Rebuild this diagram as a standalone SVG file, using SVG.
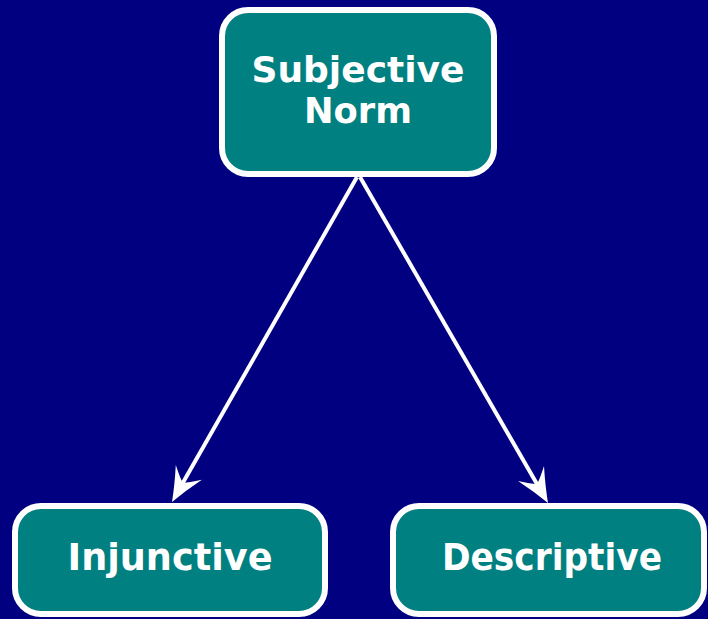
<svg xmlns="http://www.w3.org/2000/svg" width="708" height="619" viewBox="0 0 708 619">
  <defs>
    <style>
      .box { fill: #008080; stroke: #ffffff; stroke-width: 6; }
      .label { fill: #ffffff; font-family: "Comic Sans MS", "DejaVu Sans", sans-serif; font-weight: bold; font-size: 38px; text-anchor: middle; }
      .title { font-size: 35px; }
      .edge { stroke: #ffffff; stroke-width: 4; fill: none; marker-end: url(#head); }
    </style>
    <marker id="head" markerUnits="userSpaceOnUse" orient="auto" refX="0" refY="0" markerWidth="50" markerHeight="40" viewBox="-20 -20 50 40" overflow="visible">
      <path d="M20,0 Q4,-6 -14,-15 Q-4,-4 -2,0 Q-4,4 -14,15 Q4,6 20,0 Z" fill="#ffffff"/>
    </marker>
  </defs>
  <rect width="708" height="619" fill="#000080"/>

  <g id="connectors">
    <line class="edge" x1="357" y1="177" x2="181.9" y2="484.6"/>
    <line class="edge" x1="360" y1="177" x2="538" y2="485.7"/>
  </g>

  <g id="subjective-norm">
    <rect class="box" x="222" y="10" width="272" height="164" rx="26"/>
    <text class="label title" x="358" y="82" textLength="213" lengthAdjust="spacingAndGlyphs">Subjective</text>
    <text class="label title" x="358" y="123" textLength="108" lengthAdjust="spacingAndGlyphs">Norm</text>
  </g>

  <g id="injunctive">
    <rect class="box" x="15" y="506" width="310" height="108" rx="26"/>
    <text class="label" x="170" y="570" textLength="205" lengthAdjust="spacingAndGlyphs">Injunctive</text>
  </g>

  <g id="descriptive">
    <rect class="box" x="393" y="506" width="311" height="108" rx="26"/>
    <text class="label" x="552" y="570" textLength="220" lengthAdjust="spacingAndGlyphs">Descriptive</text>
  </g>
</svg>
